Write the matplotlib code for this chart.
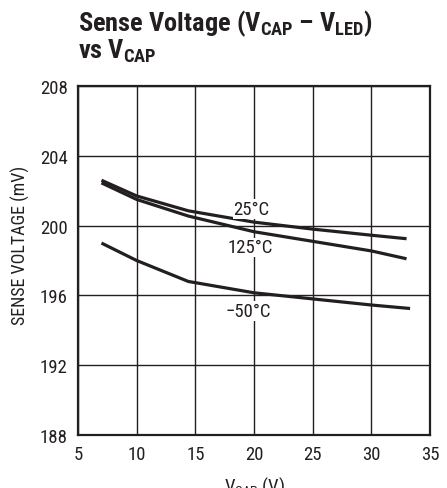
import matplotlib
matplotlib.use("Agg")
import matplotlib.pyplot as plt

# шрифт: узкий гротеск, как в даташите
plt.rcParams['font.family'] = ['Roboto Condensed', 'DejaVu Sans']
plt.rcParams['mathtext.fontset'] = 'custom'
plt.rcParams['mathtext.rm'] = 'Roboto Condensed'
plt.rcParams['mathtext.bf'] = 'Roboto Condensed:bold'

# данные
vcap = [7, 10, 14.4, 20, 25, 30, 33]
sense_25 = [202.6, 201.7, 200.85, 200.2, 199.8, 199.45, 199.25]
sense_125 = [202.45, 201.5, 200.55, 199.65, 199.1, 198.55, 198.1]
vcap_m50 = [7, 10, 14.4, 20, 25, 30, 33.3]
sense_m50 = [199.0, 198.0, 196.8, 196.15, 195.8, 195.45, 195.25]

labels = ['25°C', '125°C', '\u221250°C']
label_x = [19.8, 19.7, 19.5]
label_y = [200.95, 198.75, 195.1]

xticks = [5, 10, 15, 20, 25, 30, 35]
yticks = [188, 192, 196, 200, 204, 208]

ink = '#231f20'

fig = plt.figure(figsize=(4.47, 4.89), dpi=100)
ax = fig.add_axes([0.1745, 0.1084, 0.7875, 0.7136])

ax.plot(vcap, sense_25, color=ink, lw=2.3, solid_capstyle='butt')
ax.plot(vcap, sense_125, color=ink, lw=2.3, solid_capstyle='butt')
ax.plot(vcap_m50, sense_m50, color=ink, lw=2.3, solid_capstyle='butt')

for i in range(len(labels)):
    ax.text(label_x[i], label_y[i], labels[i], fontsize=13.5, ha='center', va='center',
            color=ink, bbox=dict(facecolor='white', edgecolor='none', pad=0.5))

ax.set_xlim(5, 35)
ax.set_ylim(188, 208)
ax.set_xticks(xticks)
ax.set_yticks(yticks)
ax.tick_params(length=0, labelsize=13.5, colors=ink, pad=7.5)
ax.grid(True, color=ink, lw=1.0)
for s in ax.spines.values():
    s.set_linewidth(1.6)
    s.set_color(ink)

ax.set_xlabel(r'$\mathregular{V_{CAP}}$ (V)', fontsize=13.5, color=ink, labelpad=8)
fig.text(20 / 447, 1 - 245 / 489, 'SENSE VOLTAGE (mV)', rotation=90, fontsize=13,
         ha='center', va='center', color=ink)

fig.text(78 / 447, 1 - 31 / 489, r'Sense Voltage ($\mathbf{V_{CAP}}$ – $\mathbf{V_{LED}}$)',
         fontsize=19, fontweight='bold', color=ink, va='baseline')
fig.text(78 / 447, 1 - 59 / 489, r'vs $\mathbf{V_{CAP}}$',
         fontsize=19, fontweight='bold', color=ink, va='baseline')

fig.savefig('out.png', dpi=100)
